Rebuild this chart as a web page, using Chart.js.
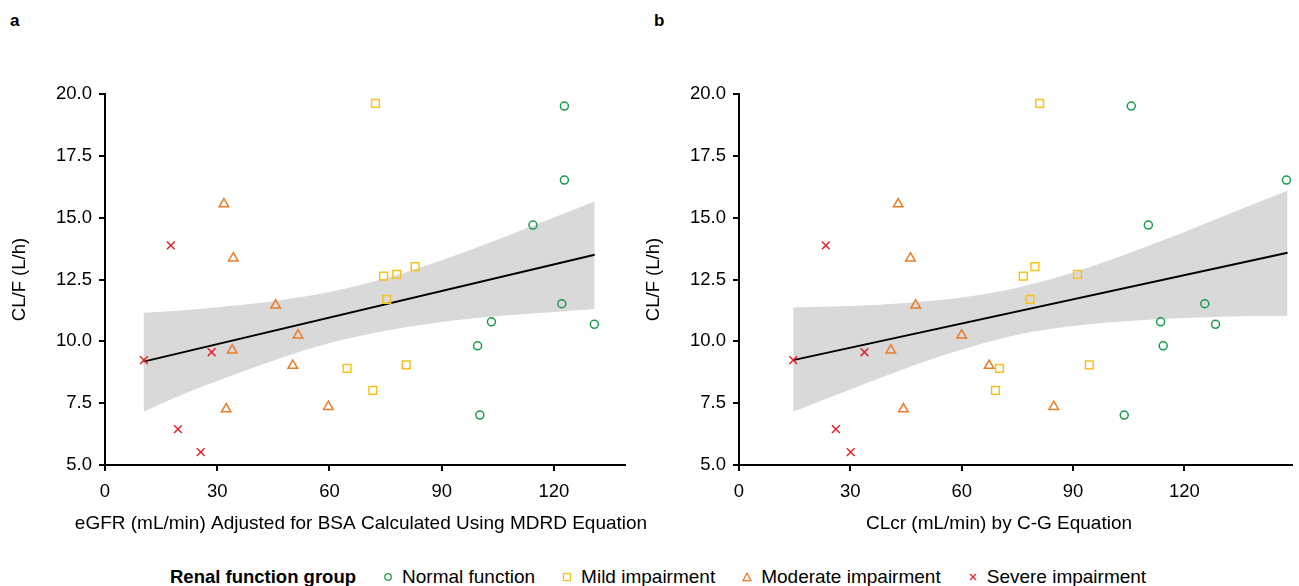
<!DOCTYPE html>
<html>
<head>
<meta charset="utf-8">
<script src="https://cdn.jsdelivr.net/npm/chart.js@4.4.1/dist/chart.umd.min.js"></script>
<style>
    body { margin: 0; background: #fff; font-family: "Liberation Sans", Arial, sans-serif; }
    #wrap { position: relative; width: 1299px; height: 586px; overflow: hidden; }
    .panel { position: absolute; top: 0; height: 545px; }
    .tag { position: absolute; top: 11px; font-weight: bold; font-size: 17px; line-height: 20px; color: #000; }
    #legend { position: absolute; top: 567px; left: 170px; display: flex; align-items: center; font-size: 19px; line-height: 20px; white-space: nowrap; color: #000; }
    #legend b { margin-right: 27px; font-size: 18.5px; }
    #legend .item { display: flex; align-items: center; margin-right: 27px; }
    #legend svg { margin-right: 9px; }
</style>
</head>
<body>
<div id="wrap">
    <div class="tag" style="left:10px">a</div>
    <div class="tag" style="left:654px">b</div>
    <canvas id="panelA" class="panel" style="left:0px" width="670" height="545"></canvas>
    <canvas id="panelB" class="panel" style="left:634px" width="665" height="545"></canvas>
    <div id="legend"></div>
</div>
<script>
// groups and marker colours
const groups = ["Normal function", "Mild impairment", "Moderate impairment", "Severe impairment"];
const groupColors = ["#1a9b4b", "#f8c21c", "#ea7c28", "#e3242b"];
const groupMarkers = ["circle", "rect", "triangle", "crossRot"];
const groupRadius = [4, 5.5, 5.5, 5.5];

// CL/F (L/h) per subject, same subjects in both panels
const clfNormal = [19.51, 16.52, 14.70, 11.52, 10.79, 10.69, 9.82, 7.02];
const clfMild = [19.62, 12.64, 12.71, 13.02, 11.70, 8.91, 9.05, 8.02];
const clfModerate = [15.55, 13.36, 11.46, 10.25, 9.64, 9.02, 7.26, 7.36];
const clfSevere = [9.24, 13.88, 6.45, 5.52, 9.56];

// panel a: eGFR adjusted for BSA (MDRD)
const egfrNormal = [122.8, 122.8, 114.4, 122.1, 103.3, 130.8, 99.6, 100.2];
const egfrMild = [72.3, 74.5, 78.0, 82.9, 75.3, 64.7, 80.5, 71.6];
const egfrModerate = [31.8, 34.3, 45.6, 51.6, 34.0, 50.2, 32.4, 59.7];
const egfrSevere = [10.4, 17.6, 19.5, 25.6, 28.5];

// panel b: CLcr by Cockcroft-Gault
const clcrNormal = [105.7, 147.5, 110.3, 125.5, 113.6, 128.4, 114.3, 103.8];
const clcrMild = [81.0, 76.6, 91.2, 79.7, 78.4, 70.2, 94.4, 69.1];
const clcrModerate = [42.9, 46.2, 47.6, 60.0, 40.9, 67.4, 44.3, 84.8];
const clcrSevere = [14.6, 23.4, 26.1, 30.1, 33.8];

// regression lines and 95% bands
const fitXA = [10.3, 130.9];
const fitYA = [9.18, 13.50];
const bandXA = [10.3, 20, 30, 45, 60, 75, 90, 105, 120, 130.9];
const bandUpperA = [11.16, 11.25, 11.38, 11.62, 11.99, 12.55, 13.28, 14.12, 15.01, 15.65];
const bandLowerA = [7.15, 7.81, 8.40, 9.22, 9.93, 10.43, 10.78, 11.02, 11.19, 11.31];

const fitXB = [14.6, 147.8];
const fitYB = [9.24, 13.58];
const bandXB = [14.6, 30, 45, 60, 75, 90, 105, 120, 135, 147.8];
const bandUpperB = [11.37, 11.43, 11.55, 11.77, 12.17, 12.78, 13.56, 14.42, 15.33, 16.09];
const bandLowerB = [7.15, 8.05, 8.91, 9.67, 10.27, 10.62, 10.82, 10.94, 11.01, 11.03];

const yTicks = [5.0, 7.5, 10.0, 12.5, 15.0, 17.5, 20.0];
const xTicks = [0, 30, 60, 90, 120];

const zip = (xs, ys) => xs.map((x, i) => ({ x, y: ys[i] }));

// x title is wider than the axis itself, so draw it without Chart.js's maxWidth squeeze
const xTitlePlugin = {
    id: "xTitle",
    afterDraw(chart, args, opts) {
        const ctx = chart.ctx;
        ctx.save();
        ctx.font = "19px 'Liberation Sans', Arial, sans-serif";
        ctx.fillStyle = "#000";
        ctx.textAlign = "center";
        ctx.textBaseline = "middle";
        ctx.fillText(opts.text, opts.x, opts.y);
        ctx.restore();
    }
};

function makePanel(id, cfg) {
    const font = { family: "'Liberation Sans', Arial, sans-serif", size: 18.5 };
    const pointSets = cfg.groupsX.map((xs, g) => ({
        type: "scatter",
        label: groups[g],
        data: zip(xs, cfg.groupsY[g]),
        pointStyle: groupMarkers[g],
        pointRadius: groupRadius[g],
        pointBorderWidth: 1.5,
        borderColor: groupColors[g],
        backgroundColor: "rgba(0,0,0,0)"
    }));

    new Chart(document.getElementById(id), {
        type: "scatter",
        data: {
            datasets: [
                ...pointSets,
                {
                    type: "line",
                    data: zip(cfg.fitX, cfg.fitY),
                    borderColor: "#000",
                    borderWidth: 2,
                    pointRadius: 0,
                    fill: false
                },
                {
                    type: "line",
                    data: zip(cfg.bandX, cfg.upper),
                    borderWidth: 0,
                    borderColor: "rgba(0,0,0,0)",
                    pointRadius: 0,
                    cubicInterpolationMode: "monotone",
                    backgroundColor: "#d9d9d9",
                    fill: "+1"
                },
                {
                    type: "line",
                    data: zip(cfg.bandX, cfg.lower),
                    borderWidth: 0,
                    borderColor: "rgba(0,0,0,0)",
                    pointRadius: 0,
                    cubicInterpolationMode: "monotone",
                    fill: false
                }
            ]
        },
        plugins: [xTitlePlugin],
        options: {
            responsive: false,
            animation: false,
            layout: { padding: { top: 94, right: cfg.padRight, left: 0, bottom: 0 } },
            plugins: {
                legend: { display: false },
                tooltip: { enabled: false },
                xTitle: { text: cfg.xTitle, x: cfg.titleX, y: 524 }
            },
            scales: {
                x: {
                    type: "linear",
                    min: 0,
                    max: cfg.xMax,
                    afterBuildTicks: (scale) => { scale.ticks = xTicks.map(v => ({ value: v })); },
                    afterFit: (scale) => { scale.height = 80; },
                    ticks: { color: "#000", font, padding: 10, includeBounds: false },
                    grid: { display: true, drawOnChartArea: false, drawTicks: true, tickLength: 6, color: "#000", lineWidth: 2 },
                    border: { display: true, color: "#000", width: 2 }
                },
                y: {
                    min: 5,
                    max: 20,
                    afterBuildTicks: (scale) => { scale.ticks = yTicks.map(v => ({ value: v })); },
                    afterFit: (scale) => { scale.width = 105; },
                    ticks: { color: "#000", font, padding: 7, callback: (v) => Number(v).toFixed(1) },
                    grid: { display: true, drawOnChartArea: false, drawTicks: true, tickLength: 6, color: "#000", lineWidth: 2 },
                    border: { display: true, color: "#000", width: 2 },
                    title: { display: true, text: "CL/F (L/h)", color: "#000", font, padding: { top: 9, bottom: 0 } }
                }
            }
        }
    });
}

makePanel("panelA", {
    groupsX: [egfrNormal, egfrMild, egfrModerate, egfrSevere],
    groupsY: [clfNormal, clfMild, clfModerate, clfSevere],
    fitX: fitXA, fitY: fitYA,
    bandX: bandXA, upper: bandUpperA, lower: bandLowerA,
    xMax: 139,
    padRight: 45,
    titleX: 361,
    xTitle: "eGFR (mL/min) Adjusted for BSA Calculated Using MDRD Equation"
});

makePanel("panelB", {
    groupsX: [clcrNormal, clcrMild, clcrModerate, clcrSevere],
    groupsY: [clfNormal, clfMild, clfModerate, clfSevere],
    fitX: fitXB, fitY: fitYB,
    bandX: bandXB, upper: bandUpperB, lower: bandLowerB,
    xMax: 149,
    padRight: 2,
    titleX: 365,
    xTitle: "CLcr (mL/min) by C-G Equation"
});

// shared legend below the panels
const markerSvg = [
    '<circle cx="5" cy="5" r="3.3" fill="none" stroke="COL" stroke-width="1.3"/>',
    '<rect x="1.5" y="1.5" width="7" height="7" fill="none" stroke="COL" stroke-width="1.3"/>',
    '<path d="M5 1.2 L9 8.6 L1 8.6 Z" fill="none" stroke="COL" stroke-width="1.3"/>',
    '<path d="M2 2 L8 8 M8 2 L2 8" stroke="COL" stroke-width="1.3"/>'
];
const legendEl = document.getElementById("legend");
legendEl.innerHTML = "<b>Renal function group</b>" + groups.map((name, g) =>
    '<span class="item"><svg width="10" height="10">' + markerSvg[g].replace(/COL/g, groupColors[g]) +
    "</svg>" + name + "</span>").join("");
</script>
</body>
</html>
